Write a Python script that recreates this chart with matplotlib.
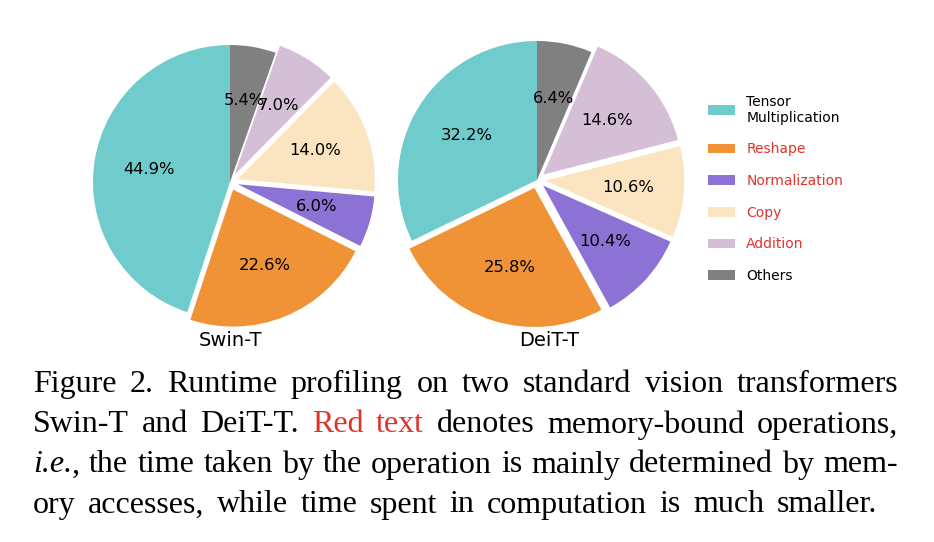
import matplotlib
matplotlib.use("Agg")
import matplotlib.pyplot as plt

# data
labels = ["Tensor\nMultiplication", "Reshape", "Normalization", "Copy", "Addition", "Others"]
swin_vals = [44.9, 22.6, 6.0, 14.0, 7.0, 5.4]
deit_vals = [32.2, 25.8, 10.4, 10.6, 14.6, 6.4]
colors = ["#70CCCC", "#F09337", "#8C72D4", "#FBE5C0", "#D4BFD6", "#808080"]
memory_bound = [False, True, True, True, True, False]
explode = [0, 0.06, 0.06, 0.06, 0.06, 0]
model_names = ["Swin-T", "DeiT-T"]

RED = "#E0332A"
W, H = 934, 542
fig = plt.figure(figsize=(W / 100, H / 100), dpi=100)

def px_axes(cx, cy, r, lim=1.15):
    # cx, cy in pixels from top-left, r = pie radius in pixels
    side = 2 * lim * r
    ax = fig.add_axes([(cx - side / 2) / W, (H - cy - side / 2) / H, side / W, side / H])
    ax.set_xlim(-lim, lim)
    ax.set_ylim(-lim, lim)
    ax.set_aspect("equal")
    ax.axis("off")
    return ax

pies = [(230, 182, 137), (537, 180, 139)]
label_x = [230, 549]
wedges = None
for (cx, cy, r), vals, name, lx in zip(pies, [swin_vals, deit_vals], model_names, label_x):
    ax = px_axes(cx, cy, r)
    wedges, _, autotexts = ax.pie(vals, colors=colors, explode=explode, startangle=90,
                                  counterclock=True, autopct="%.1f%%", pctdistance=0.6,
                                  textprops={"fontsize": 11.8, "color": "black"})
    ax.set_xlim(-1.15, 1.15)
    ax.set_ylim(-1.15, 1.15)
    fig.text(lx / W, 1 - 346 / H, name, ha="center", va="baseline", fontsize=14)

leg = fig.legend(wedges, labels, loc="upper left", bbox_to_anchor=(695 / W, 1 - 82 / H),
                 frameon=False, fontsize=10, labelspacing=1.27, handlelength=2.0,
                 handleheight=0.7)
for t, mb in zip(leg.get_texts(), memory_bound):
    if mb:
        t.set_color(RED)

# caption, justified word by word
SERIF = "Liberation Serif"
CAP_SIZE = 23
cap_lines = [
    [[("Figure", "n")], [("2.", "n")], [("Runtime", "n")], [("profiling", "n")], [("on", "n")],
     [("two", "n")], [("standard", "n")], [("vision", "n")], [("transformers", "n")]],
    [[("Swin-T", "n")], [("and", "n")], [("DeiT-T.", "n")], [("Red", "r")], [("text", "r")],
     [("denotes", "n")], [("memory-bound", "n")], [("operations,", "n")]],
    [[("i.e.", "i"), (",", "n")], [("the", "n")], [("time", "n")], [("taken", "n")], [("by", "n")],
     [("the", "n")], [("operation", "n")], [("is", "n")], [("mainly", "n")],
     [("determined", "n")], [("by", "n")], [("mem-", "n")]],
    [[("ory", "n")], [("accesses,", "n")], [("while", "n")], [("time", "n")], [("spent", "n")],
     [("in", "n")], [("computation", "n")], [("is", "n")], [("much", "n")], [("smaller.", "n")]],
]
baselines = [392, 432.5, 472.5, 512.5]
x_left = 33
x_right = [898, 898, 898, 877]

renderer = fig.canvas.get_renderer()

def make_run(text, style, x, y):
    kw = dict(fontsize=CAP_SIZE, family=SERIF, va="baseline", ha="left")
    if style == "i":
        kw["style"] = "italic"
    if style == "r":
        kw["color"] = RED
    return fig.text(x / W, 1 - y / H, text, **kw)

def run_width(t):
    return t.get_window_extent(renderer).width

for words, xr, yb in zip(cap_lines, x_right, baselines):
    items = []
    total = 0
    for runs in words:
        ts = []
        w = 0
        for text, style in runs:
            t = make_run(text, style, 0, yb)
            ts.append(t)
            w += run_width(t)
        items.append((ts, w))
        total += w
    gap = (xr - x_left - total) / (len(items) - 1)
    x = x_left
    for ts, w in items:
        xx = x
        for t in ts:
            t.set_x(xx / W)
            xx += run_width(t)
        x += w + gap

fig.savefig("out.png", dpi=100)
